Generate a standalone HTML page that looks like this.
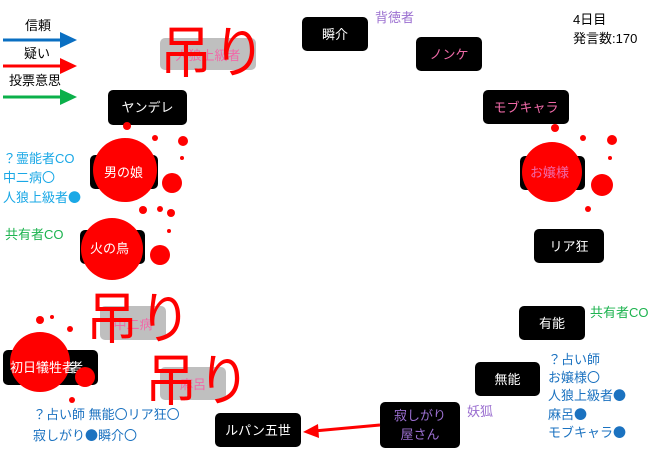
<!DOCTYPE html>
<html><head><meta charset="utf-8"><style>
body{margin:0;width:660px;height:452px;background:#fff;position:relative;overflow:hidden;font-family:"Liberation Sans","Noto Sans CJK JP",sans-serif}
.b{position:absolute;background:#000;border-radius:5px;color:#fff;font-size:13px;display:flex;align-items:center;justify-content:center;text-align:center;line-height:19px}
.g{position:absolute;background:#bfbfbf;border-radius:5px;color:#f06aa8;font-size:13px;display:flex;align-items:center;justify-content:center}
.t{position:absolute;font-size:13px;line-height:17px;white-space:nowrap}
.h{position:absolute;color:#ff0000;font-size:52px;line-height:56px;letter-spacing:1px;white-space:nowrap;transform:scaleY(1.08);transform-origin:top left}
.d{font-family:"Noto Sans CJK JP",sans-serif}
svg{position:absolute;left:0;top:0}
</style></head><body>
<div class="t" style="left:25px;top:17px;color:#000">信頼</div>
<div class="t" style="left:24px;top:45px;color:#000">疑い</div>
<div class="t" style="left:9px;top:72px;color:#000">投票意思</div>

<div class="g" style="left:160px;top:38px;width:96px;height:32px">人狼上級者</div>
<div class="b" style="left:108px;top:90px;width:79px;height:35px">ヤンデレ</div>
<div class="b" style="left:302px;top:17px;width:66px;height:34px">瞬介</div>
<div class="t" style="left:375px;top:9px;color:#9b6fd0">背徳者</div>
<div class="b" style="left:416px;top:37px;width:66px;height:34px;color:#f06aa8">ノンケ</div>
<div class="b" style="left:483px;top:90px;width:86px;height:34px;color:#f06aa8">モブキャラ</div>
<div class="t" style="left:573px;top:10px;color:#000;line-height:19px">4日目<br>発言数:170</div>
<div class="b" style="left:90px;top:155px;width:68px;height:34px">男の娘</div>
<div class="b" style="left:520px;top:156px;width:65px;height:34px;color:#f06aa8">お嬢様</div>
<div class="b" style="left:534px;top:229px;width:70px;height:34px">リア狂</div>
<div class="b" style="left:80px;top:230px;width:65px;height:34px">火の鳥</div>
<div class="g" style="left:100px;top:306px;width:66px;height:34px">中二病</div>
<div class="b" style="left:519px;top:306px;width:66px;height:34px">有能</div>
<div class="t" style="left:590px;top:304px;color:#1db34f">共有者CO</div>
<div class="b" style="left:3px;top:350px;width:95px;height:35px">初日犠牲者</div>
<div class="g" style="left:160px;top:367px;width:66px;height:33px">麻呂</div>
<div class="b" style="left:475px;top:362px;width:65px;height:34px">無能</div>
<div class="b" style="left:380px;top:402px;width:80px;height:46px;color:#9b6fd0">寂しがり<br>屋さん</div>
<div class="t" style="left:467px;top:403px;color:#9b6fd0">妖狐</div>
<div class="b" style="left:215px;top:413px;width:86px;height:34px">ルパン五世</div>

<svg width="660" height="452">
<line x1="3" y1="40" x2="62" y2="40" stroke="#0a6fc2" stroke-width="3"/><path d="M60,32 L77,40 L60,48z" fill="#0a6fc2"/>
<line x1="3" y1="66" x2="62" y2="66" stroke="#f00" stroke-width="3"/><path d="M60,58 L77,66 L60,74z" fill="#f00"/>
<line x1="3" y1="97" x2="62" y2="97" stroke="#0bb04a" stroke-width="3"/><path d="M60,89 L77,97 L60,105z" fill="#0bb04a"/>
<line x1="380" y1="425" x2="314" y2="431" stroke="#f00" stroke-width="3"/><path d="M318,424 L303,432 L319,438z" fill="#f00"/>
<g fill="#f00">
<circle cx="125" cy="170" r="32"/><circle cx="172" cy="183" r="10"/><circle cx="183" cy="141" r="5"/><circle cx="155" cy="138" r="3"/><circle cx="127" cy="126" r="4"/><circle cx="143" cy="210" r="4"/><circle cx="160" cy="209" r="3"/><circle cx="171" cy="213" r="4"/><circle cx="182" cy="158" r="2"/>
<circle cx="112" cy="249" r="31"/><circle cx="160" cy="255" r="10"/><circle cx="169" cy="231" r="2"/>
<circle cx="552" cy="172" r="30"/><circle cx="602" cy="185" r="11"/><circle cx="612" cy="140" r="5"/><circle cx="583" cy="138" r="3"/><circle cx="555" cy="128" r="4"/><circle cx="588" cy="209" r="3"/><circle cx="610" cy="158" r="2"/>
<circle cx="40" cy="362" r="30"/><circle cx="85" cy="377" r="10"/><circle cx="40" cy="320" r="4"/><circle cx="52" cy="317" r="2"/><circle cx="70" cy="329" r="3"/><circle cx="72" cy="400" r="3"/>
</g>
</svg>
<div class="t" style="left:104px;top:164px;color:#fff">男の娘</div>
<div class="t" style="left:90px;top:240px;color:#fff">火の鳥</div>
<div class="t" style="left:530px;top:164px;color:#f06aa8">お嬢様</div>
<div class="t" style="left:10px;top:359px;color:#fff">初日犠牲者</div>

<div class="h" style="left:160px;top:24px">吊り</div>
<div class="h" style="left:86px;top:290px">吊り</div>
<div class="h" style="left:145px;top:352px">吊り</div>

<div class="t" style="left:3px;top:149px;color:#1aa8e6;line-height:19px">？霊能者CO<br>中二病〇<br>人狼上級者<span class="d">●</span></div>
<div class="t" style="left:5px;top:226px;color:#1db34f">共有者CO</div>
<div class="t" style="left:33px;top:405px;color:#1b72c0;line-height:20px">？占い師 無能〇リア狂〇<br>寂しがり<span class="d">●</span>瞬介〇</div>
<div class="t" style="left:548px;top:351px;color:#1b72c0;line-height:17.5px">？占い師<br>お嬢様〇<br>人狼上級者<span class="d">●</span><br>麻呂<span class="d">●</span><br>モブキャラ<span class="d">●</span></div>
</body></html>
